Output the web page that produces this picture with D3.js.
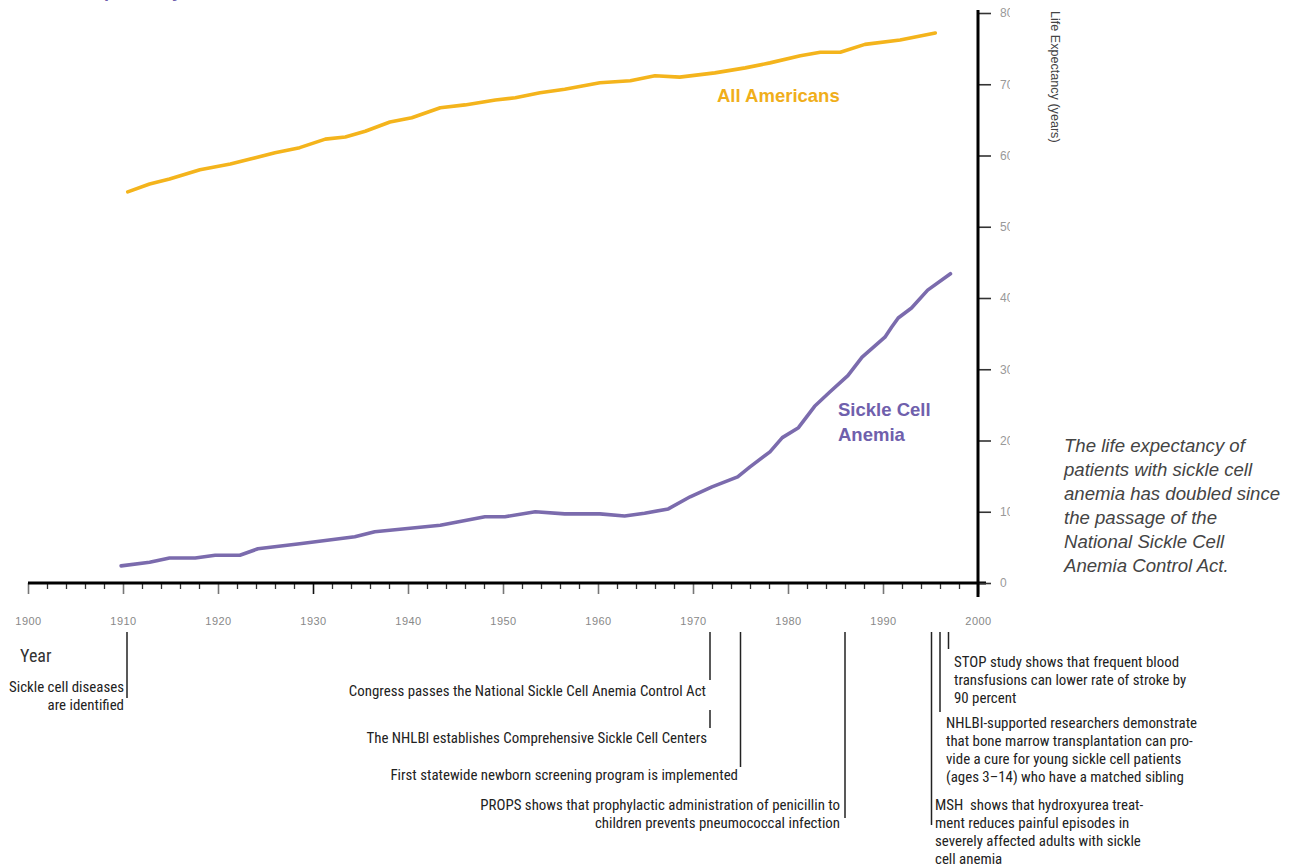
<!DOCTYPE html>
<html><head><meta charset="utf-8">
<script src="https://cdn.jsdelivr.net/npm/d3@7"></script>
<style>
html,body{margin:0;padding:0;background:#fff;}
svg{display:block;}
</style></head>
<body>
<script>
// ---------- DATA ----------
const allAmericansYears = [1910.5,1912.8,1914.9,1918.1,1921.3,1923.4,1926,1928.6,1931.3,1933.4,1935.5,1938.1,1940.4,1943.4,1946,1949.2,1951.3,1953.9,1956.5,1960.2,1963.4,1966,1968.6,1972.3,1975.5,1978.1,1981.3,1983.4,1985.5,1988.1,1991.8,1995.5];
const allAmericansValues = [54.9,56.0,56.7,58.0,58.8,59.5,60.4,61.1,62.3,62.6,63.4,64.7,65.3,66.7,67.1,67.8,68.1,68.8,69.3,70.2,70.5,71.2,71.0,71.6,72.3,73.0,74.0,74.5,74.5,75.6,76.2,77.2];
const sickleYears = [1909.8,1912.8,1914.9,1917.6,1919.7,1922.3,1924.2,1928.6,1934.4,1936.5,1943.4,1948.1,1950.2,1953.4,1956.5,1960.2,1962.8,1964.9,1967.4,1969.7,1972,1974.7,1976,1978.1,1979.4,1981.1,1982.8,1984.4,1986.3,1987.8,1990.2,1990.9,1991.6,1993,1994.7,1997.1];
const sickleValues = [2.4,2.9,3.5,3.5,3.9,3.9,4.8,5.5,6.5,7.2,8.1,9.3,9.3,10.0,9.7,9.7,9.4,9.8,10.4,12.1,13.5,14.9,16.3,18.4,20.4,21.8,24.8,26.8,29.1,31.7,34.5,35.9,37.2,38.6,41.1,43.4];
const yearTicks = [1900,1910,1920,1930,1940,1950,1960,1970,1980,1990,2000];
const valueTicks = [0,10,20,30,40,50,60,70,80];
const seriesLabels = ["All Americans", ["Sickle Cell","Anemia"]];
const titleText = "The Life Expectancy of Patients With Sickle Cell Anemia";
const yAxisTitle = "Life Expectancy (years)";
const xAxisTitle = "Year";
const noteLines = ["The life expectancy of","patients with sickle cell","anemia has doubled since","the passage of the","National Sickle Cell","Anemia Control Act."];
const eventYears = [1910, 1972, 1972, 1975, 1986, 1995, 1996, 1997];
const eventTexts = [
  ["Sickle cell diseases","are identified"],
  ["Congress passes the National Sickle Cell Anemia Control Act"],
  ["The NHLBI establishes Comprehensive Sickle Cell Centers"],
  ["First statewide newborn screening program is implemented"],
  ["PROPS shows that prophylactic administration of penicillin to","children prevents pneumococcal infection"],
  ["MSH  shows that hydroxyurea treat-","ment reduces painful episodes in","severely affected adults with sickle","cell anemia"],
  ["NHLBI-supported researchers demonstrate","that bone marrow transplantation can pro-","vide a cure for young sickle cell patients","(ages 3\u201314) who have a matched sibling"],
  ["STOP study shows that frequent blood","transfusions can lower rate of stroke by","90 percent"]
];

// ---------- LAYOUT ----------
const W = 1295, H = 866;
const eventLayout = [
  {y0:632, y1:698, dx:4,  side:"left",  tx:124, ty:692},
  {y0:632, y1:680, dx:-2, side:"left",  tx:706, ty:696},
  {y0:710, y1:728, dx:-2, side:"left",  tx:707, ty:743},
  {y0:632, y1:767, dx:0,  side:"left",  tx:738, ty:780},
  {y0:632, y1:818, dx:0,  side:"left",  tx:840, ty:810},
  {y0:632, y1:825, dx:1,  side:"right", tx:935, ty:810},
  {y0:632, y1:712, dx:0,  side:"right", tx:946, ty:728},
  {y0:632, y1:649, dx:-1, side:"right", tx:954, ty:667}
];
const orange = "#F4B41C", purple = "#7B6BAD", purpleText = "#6F60AC";
const annFont = "'Liberation Sans Narrow','Roboto Condensed','Arial Narrow',sans-serif";

const svg = d3.select("body").append("svg").attr("width", W).attr("height", H)
  .style("font-family", "'Liberation Sans', Arial, sans-serif");

const x = d3.scaleLinear().domain([1900, 2000]).range([28, 978]);
const y = d3.scaleLinear().domain([0, 80]).range([583, 13]);

// title (clipped at top edge in reference)
svg.append("text").attr("x", 8).attr("y", -3)
  .attr("font-size", 18).attr("font-weight", "bold").attr("fill", purpleText)
  .text(titleText);

// ---------- X AXIS ----------
const minorYears = d3.range(1900, 2001, 2).filter(v => v % 10 !== 0);
const gx = svg.append("g").attr("transform", `translate(0,${y(0)})`);
gx.call(d3.axisBottom(x).tickValues(minorYears).tickSize(6).tickFormat(""))
  .call(g => g.select(".domain").remove())
  .call(g => g.selectAll(".tick line").attr("stroke", "#333").attr("stroke-width", 1.3));
const gx2 = svg.append("g").attr("transform", `translate(0,${y(0)})`);
gx2.call(d3.axisBottom(x).tickValues(yearTicks).tickSize(11).tickPadding(23).tickFormat(d3.format("d")))
  .call(g => g.select(".domain").remove())
  .call(g => g.selectAll(".tick line").attr("stroke", d => d === 1930 ? "#111" : "#777").attr("stroke-width", 1.6))
  .call(g => g.selectAll(".tick text").attr("fill", "#888").attr("font-size", 11)
      .attr("font-family", "'Liberation Sans',sans-serif").attr("letter-spacing", 0.5));
svg.append("line").attr("x1", x(1900)).attr("x2", x(2000) + 8)
  .attr("y1", y(0)).attr("y2", y(0)).attr("stroke", "#000").attr("stroke-width", 3);

// ---------- Y AXIS ----------
svg.append("defs").append("clipPath").attr("id", "ylabclip")
  .append("rect").attr("x", -20).attr("y", 0).attr("width", 52).attr("height", 600);
const gy = svg.append("g").attr("transform", `translate(${x(2000)},0)`).attr("clip-path", "url(#ylabclip)");
gy.call(d3.axisRight(y).tickValues(valueTicks).tickSize(13).tickPadding(9).tickFormat(d3.format("d")))
  .call(g => g.select(".domain").remove())
  .call(g => g.selectAll(".tick line").attr("stroke", "#333").attr("stroke-width", 1.6))
  .call(g => g.selectAll(".tick text").attr("fill", "#999").attr("font-size", 12)
      .attr("font-family", "'Liberation Sans',sans-serif"));
svg.append("line").attr("x1", x(2000)).attr("x2", x(2000))
  .attr("y1", y(80) - 3).attr("y2", y(0) + 14).attr("stroke", "#000").attr("stroke-width", 3);

svg.append("text")
  .attr("transform", `translate(1051,${y(80) - 2}) rotate(90)`)
  .attr("font-size", 12.6).attr("fill", "#444")
  .text(yAxisTitle);

svg.append("text").attr("x", 20).attr("y", 662).attr("font-size", 18).attr("fill", "#333")
  .attr("font-family", annFont).text(xAxisTitle);

// ---------- LINES ----------
const line = d3.line().x(d => x(d[0])).y(d => y(d[1])).curve(d3.curveLinear);
svg.append("path").datum(allAmericansYears.map((v, i) => [v, allAmericansValues[i]]))
  .attr("d", line).attr("fill", "none").attr("stroke", orange).attr("stroke-width", 3.6)
  .attr("stroke-linejoin", "round").attr("stroke-linecap", "round");
svg.append("path").datum(sickleYears.map((v, i) => [v, sickleValues[i]]))
  .attr("d", line).attr("fill", "none").attr("stroke", purple).attr("stroke-width", 3.6)
  .attr("stroke-linejoin", "round").attr("stroke-linecap", "round");

// series labels
svg.append("text").attr("x", 717).attr("y", 102).attr("font-size", 18.5).attr("font-weight", "bold")
  .attr("fill", "#F0AE1A").text(seriesLabels[0]);
svg.append("text").attr("x", 838).attr("y", 416).attr("font-size", 18.5).attr("font-weight", "bold")
  .attr("fill", purpleText)
  .selectAll("tspan").data(seriesLabels[1]).join("tspan")
  .attr("x", 838).attr("dy", (d, i) => i === 0 ? 0 : 25).text(d => d);

// note
svg.append("text").attr("font-size", 18.6).attr("font-style", "italic").attr("fill", "#444")
  .selectAll("tspan").data(noteLines).join("tspan")
  .attr("x", 1064).attr("y", (d, i) => 452 + i * 24).text(d => d);

// ---------- EVENTS ----------
const ev = svg.append("g");
eventYears.forEach((yr, i) => {
  const L = eventLayout[i];
  ev.append("line").attr("x1", x(yr) + L.dx).attr("x2", x(yr) + L.dx).attr("y1", L.y0).attr("y2", L.y1)
    .attr("stroke", "#222").attr("stroke-width", 1.5);
  ev.append("text").attr("font-size", 14.9).attr("fill", "#222").attr("font-family", annFont)
    .style("white-space", "pre")
    .attr("text-anchor", L.side === "left" ? "end" : "start")
    .selectAll("tspan").data(eventTexts[i]).join("tspan")
    .attr("x", L.tx).attr("y", (d, j) => L.ty + j * 18).text(d => d);
});
</script>
</body></html>
